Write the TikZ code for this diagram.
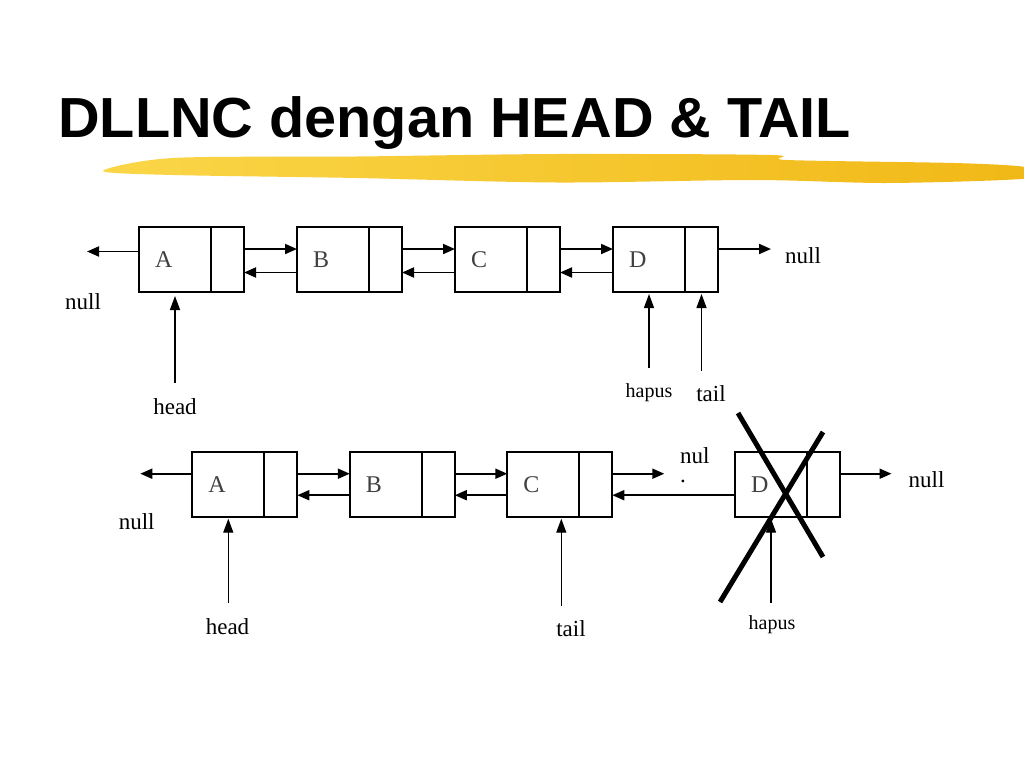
\documentclass[tikz,border=0pt]{standalone}
\usepackage{fontspec}
\setmainfont{Liberation Serif}
\newfontfamily\titlefont{Liberation Sans}[FakeStretch=1.02]
\usetikzlibrary{positioning}
\usetikzlibrary{calc}
\usetikzlibrary{arrows.meta}
\definecolor{mbrushlight}{RGB}{250,214,72}
\definecolor{mbrushdark}{RGB}{241,184,22}

\begin{document}
\begin{tikzpicture}[x=1pt, y=-1pt,
    cell/.style={draw, line width=1.8pt, minimum height=65pt, inner sep=0pt, outer sep=0pt},
    datacell/.style={cell, minimum width=72pt, text width=40pt, inner xsep=16pt, align=left, font=\fontsize{24}{24}\selectfont, text=black!75},
    nextcell/.style={cell, minimum width=33pt},
    link/.style={-{Triangle[length=12pt, width=10pt]}, line width=1.9pt},
    ptr/.style={-{Triangle[length=14pt, width=10pt]}, line width=1.4pt, shorten <=15pt, shorten >=2pt},
    lbl/.style={inner sep=0pt, font=\fontsize{23}{23}\selectfont},
    smalllbl/.style={inner sep=0pt, font=\fontsize{20}{20}\selectfont},
    cross/.style={line width=5pt},
]
\fill[white] (0,0) rectangle (1024,768);
\useasboundingbox (0,0) rectangle (1024,768);

\node[anchor=base west, inner sep=0pt, font=\titlefont\bfseries\fontsize{56.5}{60}\selectfont] (title) at (58,137) {DLLNC dengan HEAD \& TAIL};
\shade[left color=mbrushlight, right color=mbrushdark] plot[smooth cycle, tension=0.5] coordinates {(103,171) (173,158) (357,156.5) (557,154) (771,155) (787,160) (954,163) (1022,166.5) (1024,172) (1021,179) (887,183) (754,180) (557,182.5) (357,178) (173,175)};

\node[datacell] (A1) at (175,259.5) {A};
\node[nextcell, right=0pt of A1] (A1n) {};
\node[datacell, right=53pt of A1n] (B1) {B};
\node[nextcell, right=0pt of B1] (B1n) {};
\node[datacell, right=53pt of B1n] (C1) {C};
\node[nextcell, right=0pt of C1] (C1n) {};
\node[datacell, right=53pt of C1n] (D1) {D};
\node[nextcell, right=0pt of D1] (D1n) {};

\draw[link] ([yshift=10.5pt]A1n.east) -- ([yshift=10.5pt]B1.west);
\draw[link] ([yshift=-13pt]B1.west) -- ([yshift=-13pt]A1n.east);
\draw[link] ([yshift=10.5pt]B1n.east) -- ([yshift=10.5pt]C1.west);
\draw[link] ([yshift=-13pt]C1.west) -- ([yshift=-13pt]B1n.east);
\draw[link] ([yshift=10.5pt]C1n.east) -- ([yshift=10.5pt]D1.west);
\draw[link] ([yshift=-13pt]D1.west) -- ([yshift=-13pt]C1n.east);

\coordinate (endA1) at ([xshift=-52pt, yshift=8pt]A1.west);
\coordinate (endD1) at ([xshift=53pt, yshift=10.5pt]D1n.east);
\draw[link] ([yshift=8pt]A1.west) -- (endA1);
\draw[link] ([yshift=10.5pt]D1n.east) -- (endD1);
\node[lbl] (nullA1) at (83,302) {null};
\node[lbl] (nullD1) at (803,255.5) {null};

\node[lbl] (head1) at (175,406.5) {head};
\node[smalllbl] (hapus1) at (649,392.5) {hapus};
\node[lbl] (tail1) at (711,394) {tail};
\draw[ptr, shorten >=4pt] (A1.south |- head1.north) -- (A1.south);
\draw[ptr] (D1.south |- hapus1.north) -- (D1.south);
\draw[ptr] (D1n.south |- tail1.north) -- (D1n.south);

\node[datacell] (A2) at (228.3,484.2) {A};
\node[nextcell, right=0pt of A2] (A2n) {};
\node[datacell, right=52.5pt of A2n] (B2) {B};
\node[nextcell, right=0pt of B2] (B2n) {};
\node[datacell, right=52.5pt of B2n] (C2) {C};
\node[nextcell, right=0pt of C2] (C2n) {};
\node[datacell, right=122.7pt of C2n] (D2) {D};
\node[nextcell, right=0pt of D2] (D2n) {};

\draw[link] ([yshift=10.5pt]A2n.east) -- ([yshift=10.5pt]B2.west);
\draw[link] ([yshift=-11pt]B2.west) -- ([yshift=-11pt]A2n.east);
\draw[link] ([yshift=10.5pt]B2n.east) -- ([yshift=10.5pt]C2.west);
\draw[link] ([yshift=-11pt]C2.west) -- ([yshift=-11pt]B2n.east);
\draw[link] ([yshift=-11pt]D2.west) -- ([yshift=-11pt]C2n.east);

\coordinate (endA2) at ([xshift=-52pt, yshift=10.5pt]A2.west);
\coordinate (endC2) at ([xshift=52pt, yshift=10.5pt]C2n.east);
\coordinate (endD2) at ([xshift=51.5pt, yshift=10.5pt]D2n.east);
\draw[link] ([yshift=10.5pt]A2.west) -- (endA2);
\draw[link] ([yshift=10.5pt]C2n.east) -- (endC2);
\draw[link] ([yshift=10.5pt]D2n.east) -- (endD2);
\node[lbl] (nullA2) at (136.7,521.7) {null};
\node[lbl, anchor=north west, align=left] (nulC2) at (680,447) {nul\\[-4pt].};
\node[lbl] (nullD2) at (926.5,480) {null};

\node[lbl] (head2) at (227.5,626.5) {head};
\node[lbl] (tail2) at (571,629) {tail};
\node[smalllbl] (hapus2) at (772,624.5) {hapus};
\coordinate (tailC2) at ([xshift=18pt]C2.south);
\draw[ptr] (A2.south |- head2.north) -- (A2.south);
\draw[ptr] (tailC2 |- tail2.north) -- (tailC2);
\draw[ptr, shorten <=12pt] (D2.south |- hapus2.north) -- (D2.south);

\draw[cross] (738,413) -- (823,557);
\draw[cross] (823,432) -- (720,602);
\end{tikzpicture}
\end{document}
